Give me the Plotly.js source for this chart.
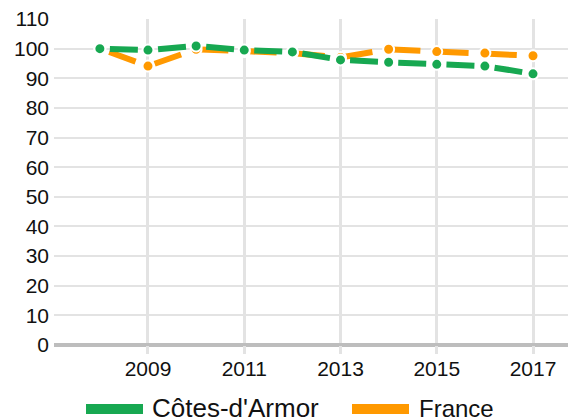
<!DOCTYPE html>
<html><head><meta charset="utf-8">
<script src="https://cdn.plot.ly/plotly-3.0.1.min.js"></script>
<style>html,body{margin:0;padding:0;background:#fff}#c{width:568px;height:418px}</style>
</head><body><div id="c"></div>
<script>
const years = [2008, 2009, 2010, 2011, 2012, 2013, 2014, 2015, 2016, 2017];
const cotesArmor = [100, 99.5, 100.9, 99.5, 98.9, 96.2, 95.4, 94.7, 94.1, 91.5];
const france = [100, 94.1, 99.8, 99.0, 98.5, 97.0, 99.8, 99.0, 98.5, 97.6];
const yTicks = [0, 10, 20, 30, 40, 50, 60, 70, 80, 90, 100, 110];
const xTicks = [2009, 2011, 2013, 2015, 2017];
const seriesNames = ["Côtes-d'Armor", 'France'];
const seriesColors = ['#17a851', '#ff9900'];

function tr(name, y, color) {
  return {
    x: years, y: y, name: name, type: 'scatter', mode: 'lines+markers', showlegend: false,
    line: {color: color, width: 6, dash: '0px,10px,28px,10.25px'},
    marker: {color: color, size: 11, line: {color: '#fff', width: 2}}
  };
}
const data = [tr(seriesNames[1], france, seriesColors[1]), tr(seriesNames[0], cotesArmor, seriesColors[0])];

// plot area in pixels: left 54, right 568, top 19, bottom 345
const px = v => (v - 54) / 514;
const py = v => (345 - v) / 326;
const legLine = [[86, 143], [352, 409]];
const legText = [151, 418];
const legFont = [26, 24];
const legY = 409;
const shapes = seriesNames.map((n, i) => ({
  type: 'line', xref: 'paper', yref: 'paper',
  x0: px(legLine[i][0]), x1: px(legLine[i][1]), y0: py(legY), y1: py(legY),
  line: {color: seriesColors[i], width: 10}
}));
const annotations = seriesNames.map((n, i) => ({
  text: n, xref: 'paper', yref: 'paper', showarrow: false,
  x: px(legText[i]), y: py(legY - 1), xanchor: 'left', yanchor: 'middle',
  borderpad: 0, font: {size: legFont[i], color: '#111'}
}));

const layout = {
  width: 568, height: 418,
  margin: {l: 54, r: 0, t: 19, b: 73},
  paper_bgcolor: '#fff', plot_bgcolor: '#fff',
  font: {family: 'Liberation Sans, Arial, sans-serif', size: 21, color: '#111'},
  showlegend: false,
  shapes: shapes, annotations: annotations,
  xaxis: {
    range: [2007.047, 2017.727], tickvals: xTicks, ticktext: xTicks.map(String),
    showgrid: true, gridcolor: '#e3e3e3', gridwidth: 3, zeroline: false,
    ticks: 'outside', ticklen: 8, tickcolor: '#e3e3e3', tickwidth: 3, showline: false,
    ticklabelstandoff: -3
  },
  yaxis: {
    range: [0, 110], tickvals: yTicks, ticktext: yTicks.map(String),
    showgrid: true, gridcolor: '#e3e3e3', gridwidth: 2,
    zeroline: true, zerolinecolor: '#bdbdbd', zerolinewidth: 4,
    ticks: '', ticklabelstandoff: 4, showline: false
  }
};
Plotly.newPlot('c', data, layout, {displayModeBar: false, staticPlot: true});
</script></body></html>
